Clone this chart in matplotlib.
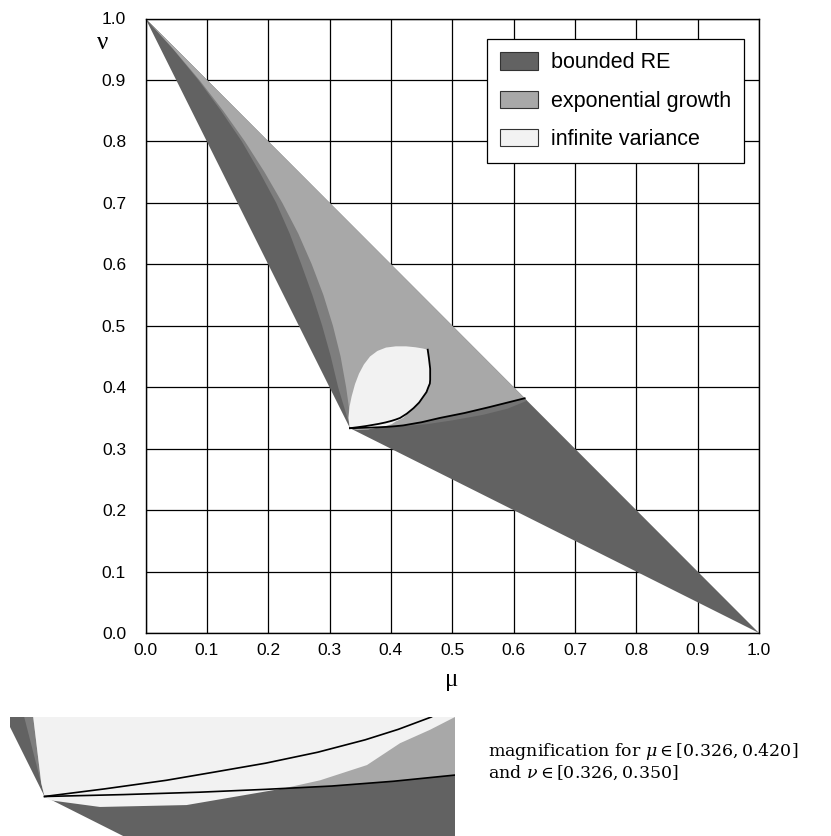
"""Parameter regions in the (mu, nu) plane with a magnified corner.

Regions: bounded RE / exponential growth / infinite variance.
"""

import matplotlib
matplotlib.use("Agg")
import matplotlib.pyplot as plt
from matplotlib.patches import Patch

plt.rcParams["mathtext.fontset"] = "dejavuserif"

# ------------------------------------------------------------------
# Region outlines (mu, nu)
# ------------------------------------------------------------------
# whole admissible triangle (bounded RE underneath everything)
TRI_MU = [0.0, 0.3333, 1.0]
TRI_NU = [1.0, 0.3333, 0.0]

# right edge of the dark strip on the left (start of the grey ramp)
STRIP_NU = [1.0, 0.95, 0.90, 0.85, 0.80, 0.75, 0.70, 0.65, 0.60, 0.55, 0.50,
            0.45, 0.40, 0.3667, 0.35, 0.3333]
STRIP_MU = [0.0, 0.045, 0.086, 0.123, 0.157, 0.186, 0.213, 0.235, 0.254, 0.272, 0.288,
            0.302, 0.314, 0.324, 0.329, 0.3333]

# where the plain exponential-growth grey begins
EXP_NU = [1.0, 0.95, 0.90, 0.85, 0.80, 0.75, 0.70, 0.65, 0.60, 0.55, 0.50,
          0.45, 0.40, 0.3667, 0.35, 0.3361, 0.3333]
EXP_MU = [0.0, 0.0455, 0.0877, 0.1265, 0.162, 0.194, 0.223, 0.249, 0.271, 0.290, 0.3055,
          0.318, 0.327, 0.3317, 0.3309, 0.3326, 0.3333]

# lower black curve: vertex -> golden point on mu + nu = 1
LOW_MU = [0.3333, 0.350, 0.366, 0.380, 0.394, 0.407, 0.420, 0.450, 0.480, 0.520,
          0.560, 0.590, 0.618]
LOW_NU = [0.3333, 0.3337, 0.3342, 0.3348, 0.3355, 0.3365, 0.3378, 0.343, 0.350, 0.358,
          0.3675, 0.375, 0.382]

# lower edge of the grey ramp under the lower curve
RAMP_MU = [0.622, 0.590, 0.550, 0.500, 0.460, 0.420]
RAMP_NU = [0.378, 0.365, 0.355, 0.346, 0.340, 0.3365]

# infinite variance blob
BLOB_MU = [0.460, 0.452, 0.440, 0.425, 0.408, 0.392, 0.378, 0.366, 0.356, 0.348,
           0.3415, 0.336, 0.3325, 0.3309, 0.3326, 0.3333,
           0.3345, 0.345, 0.3633, 0.3838, 0.3915, 0.4014, 0.4084, 0.4147, 0.420,
           0.437, 0.453, 0.461, 0.464, 0.464, 0.462]
BLOB_NU = [0.461, 0.463, 0.465, 0.4665, 0.4665, 0.4645, 0.459, 0.450, 0.437, 0.422,
           0.405, 0.385, 0.368, 0.350, 0.3361, 0.3333,
           0.3325, 0.3311, 0.3315, 0.3350, 0.3367, 0.3399, 0.3445, 0.3473, 0.350,
           0.366, 0.385, 0.400, 0.412, 0.430, 0.447]

# upper black curve (edge of infinite variance)
IV_MU = [0.3333, 0.346, 0.359, 0.369, 0.380, 0.391, 0.401, 0.408, 0.415, 0.426,
         0.437, 0.446, 0.453, 0.458, 0.461, 0.4635, 0.464, 0.464, 0.462, 0.460]
IV_NU = [0.3333, 0.3349, 0.3367, 0.3384, 0.3403, 0.3426, 0.3452, 0.3474, 0.350, 0.357,
         0.366, 0.375, 0.385, 0.392, 0.400, 0.406, 0.412, 0.430, 0.447, 0.461]

TICKS = [0.0, 0.1, 0.2, 0.3, 0.4, 0.5, 0.6, 0.7, 0.8, 0.9, 1.0]
LABELS = ["bounded RE", "exponential growth", "infinite variance"]

C_DARK = "#626262"
C_RAMP = "#7e7e7e"
C_EXP = "#a8a8a8"
C_INF = "#f2f2f2"


def draw_regions(ax, lw):
    ax.fill(TRI_MU, TRI_NU, color=C_DARK, lw=0, zorder=2)
    ramp_mu = [m for m in LOW_MU if m >= 0.42] + RAMP_MU
    ramp_nu = [n for m, n in zip(LOW_MU, LOW_NU) if m >= 0.42] + RAMP_NU
    ax.fill(ramp_mu, ramp_nu, color="#747474", lw=0, zorder=2.2)
    ax.fill(STRIP_MU + LOW_MU[1:], STRIP_NU + LOW_NU[1:], color=C_RAMP, lw=0, zorder=2.4)
    ax.fill(EXP_MU + LOW_MU[1:], EXP_NU + LOW_NU[1:], color=C_EXP, lw=0, zorder=2.6)
    ax.fill(BLOB_MU, BLOB_NU, color=C_INF, lw=0, zorder=2.8)
    ax.plot(LOW_MU, LOW_NU, color="black", lw=lw, zorder=3)
    ax.plot(IV_MU, IV_NU, color="black", lw=lw, zorder=3)


fig = plt.figure(figsize=(8.31, 8.36), dpi=100)

# ------------------------------------------------------------------
# Main panel
# ------------------------------------------------------------------
ax = fig.add_axes([145.5 / 831, 1 - 633 / 836, 613.5 / 831, 614.5 / 836])
draw_regions(ax, 1.3)
ax.set_xlim(0, 1)
ax.set_ylim(0, 1)
ax.set_xticks(TICKS)
ax.set_yticks(TICKS)
ax.set_xticklabels([f"{t:.1f}" for t in TICKS], family="Liberation Sans", fontsize=12.5)
ax.set_yticklabels([f"{t:.1f}" for t in TICKS], family="Liberation Sans", fontsize=12.5)
ax.tick_params(length=0)
ax.tick_params(axis="x", pad=7)
ax.tick_params(axis="y", pad=14)
ax.grid(True, color="black", lw=0.9)
ax.set_axisbelow(True)
for s in ax.spines.values():
    s.set_linewidth(1.0)
    s.set_zorder(4)

fig.text(452 / 831, 1 - 680 / 836, "μ", family="Liberation Serif", fontsize=18,
         ha="center", va="center")
fig.text(103 / 831, 1 - 43 / 836, "ν", family="Liberation Serif", fontsize=18,
         ha="center", va="center")

handles = [Patch(facecolor=c, edgecolor="#333333", lw=0.8) for c in (C_DARK, C_EXP, C_INF)]
leg = ax.legend(handles, LABELS, loc="upper right", bbox_to_anchor=(0.9756, 0.9666),
                borderaxespad=0, fancybox=False, framealpha=1, edgecolor="black",
                prop={"family": "Liberation Sans", "size": 15.5},
                handlelength=1.75, handleheight=0.85, handletextpad=0.6,
                labelspacing=0.8, borderpad=0.62)
leg.get_frame().set_linewidth(0.9)
leg.set_zorder(5)

# ------------------------------------------------------------------
# Magnified corner
# ------------------------------------------------------------------
axm = fig.add_axes([10 / 831, 0, 445 / 831, 119 / 836])
draw_regions(axm, 1.2)
axm.set_xlim(0.326, 0.420)
axm.set_ylim(0.325, 0.350)
axm.set_axis_off()

fig.text(488 / 831, 1 - 751 / 836, r"magnification for $\mu \in [0.326, 0.420]$",
         family="DejaVu Serif", fontsize=12.5, ha="left", va="center")
fig.text(488 / 831, 1 - 773 / 836, r"and $\nu \in [0.326, 0.350]$",
         family="DejaVu Serif", fontsize=12.5, ha="left", va="center")

fig.savefig("out.png", dpi=100)
